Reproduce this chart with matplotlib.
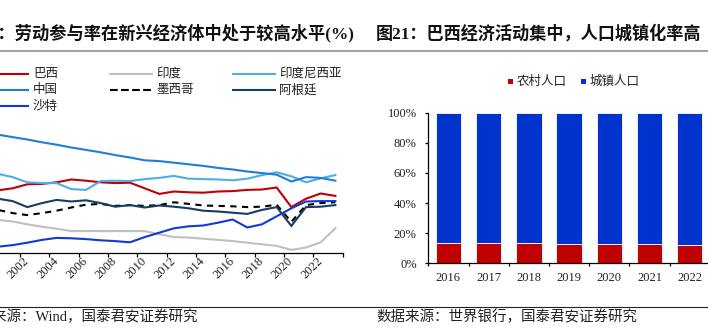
import matplotlib
matplotlib.use('Agg')
import matplotlib.pyplot as plt
from matplotlib.lines import Line2D
from matplotlib.patches import Rectangle
import numpy as np

# ---------------- data ----------------
years = list(range(2000, 2024))
brazil = [60.6, 61.1, 62.1, 62.2, 62.6, 63.3, 63.0, 62.6, 62.4, 62.5, 61.1, 59.7, 60.3, 60.1, 60.0, 60.3, 60.4, 60.7, 60.8, 61.3, 56.4, 58.5, 59.8, 59.2]
india = [53.2, 52.8, 52.1, 51.5, 51.0, 50.4, 50.4, 50.4, 50.4, 50.4, 50.4, 49.6, 48.9, 48.8, 48.5, 48.2, 47.9, 47.5, 47.1, 46.7, 45.7, 46.3, 47.6, 51.1]
indonesia = [64.7, 63.9, 62.6, 62.4, 62.4, 60.9, 60.7, 62.9, 63.0, 62.9, 63.4, 63.7, 64.2, 63.5, 63.4, 63.3, 63.1, 63.5, 64.4, 65.1, 64.1, 62.6, 63.6, 64.4]
china = [74.5, 73.9, 73.3, 72.6, 72.0, 71.3, 70.7, 70.1, 69.4, 68.8, 68.1, 67.9, 67.5, 67.1, 66.7, 66.2, 65.8, 65.3, 64.9, 64.5, 62.8, 63.9, 63.7, 63.0]
mexico = [55.7, 54.9, 54.4, 54.9, 55.5, 56.3, 57.0, 57.2, 56.7, 56.9, 56.7, 56.9, 57.6, 57.2, 56.8, 56.7, 56.6, 56.4, 56.5, 57.0, 52.7, 56.9, 57.4, 57.6]
argentina = [58.5, 57.9, 56.4, 57.4, 58.2, 57.8, 58.1, 57.4, 56.5, 56.9, 56.3, 56.8, 56.5, 56.1, 55.5, 55.3, 55.0, 54.7, 55.7, 56.4, 51.7, 56.4, 56.5, 56.9]
saudi = [46.5, 46.9, 47.5, 48.2, 48.7, 48.6, 48.4, 48.1, 47.9, 47.6, 48.9, 50.0, 51.1, 51.6, 51.8, 52.5, 53.3, 51.3, 52.1, 54.1, 56.1, 57.8, 57.9, 57.9]
line_labels = ['巴西', '印度', '印度尼西亚', '中国', '墨西哥', '阿根廷', '沙特']
line_tick_years = list(range(2002, 2023, 2))

bar_years = ['2016', '2017', '2018', '2019', '2020', '2021', '2022']
rural = [13.8, 13.6, 13.4, 13.1, 12.9, 12.6, 12.3]
urban = [86.2, 86.4, 86.6, 86.9, 87.1, 87.4, 87.7]
bar_labels = ['农村人口', '城镇人口']
pct_ticks = [0, 20, 40, 60, 80, 100]

title_left = '图20：劳动参与率在新兴经济体中处于较高水平(%)'
title_right = '图21：巴西经济活动集中，人口城镇化率高'
source_left = '数据来源：Wind，国泰君安证券研究'
source_right = '数据来源：世界银行，国泰君安证券研究'

# ---------------- layout helpers ----------------
W, H = 708, 332
def fx(x): return x / W
def fy(y): return 1 - y / H

CJK = ['Noto Sans CJK SC', 'DejaVu Sans']
MIX = ['Liberation Serif', 'Noto Sans CJK SC', 'DejaVu Sans']
SERIF = ['Liberation Serif']

fig = plt.figure(figsize=(W / 100, H / 100), dpi=100)
fig.patch.set_facecolor('white')

# ---------------- left line chart ----------------
ax = fig.add_axes([fx(-9.4), fy(252.7), 352.1 / W, 140 / H])
series = [brazil, india, indonesia, china, mexico, argentina, saudi]
colors = ['#C00000', '#BFBFBF', '#4BAEE8', '#1F7FD8', '#000000', '#173D64', '#1438D6']
styles = ['-', '-', '-', '-', (0, (3, 2.6)), '-', '-']
lines = []
for s, c, ls, lab in zip(series, colors, styles, line_labels):
    ln, = ax.plot(years, s, color=c, lw=1.5, ls=ls, label=lab, solid_joinstyle='miter')
    lines.append(ln)
ax.set_xlim(1999.5, 2023.5)
ax.set_ylim(45, 80)
for sp in ['top', 'right', 'left']:
    ax.spines[sp].set_visible(False)
ax.spines['bottom'].set_color('#000000')
ax.spines['bottom'].set_linewidth(0.9)
ax.set_yticks([])
ax.set_xticks(line_tick_years)
ax.set_xticklabels([str(y) for y in line_tick_years], family=SERIF, fontsize=9, color='#222222')
ax.set_xticks(np.arange(2001.5, 2024, 2), minor=True)
ax.tick_params(axis='x', which='major', length=0, pad=5)
ax.tick_params(axis='x', which='minor', length=3, width=0.9, direction='out', color='#000000')
for t in ax.get_xticklabels():
    t.set_rotation(45)
    t.set_ha('right')
    t.set_va('center')
    t.set_rotation_mode('anchor')

# legend (three fixed-width columns, as in the original)
col_lines = [(-13, 28.5), (110, 152), (233, 275)]
row_y = [73.5, 89.8, 106]
for i, ln in enumerate(lines):
    r, c = divmod(i, 3)
    x0, x1 = col_lines[c]
    y = row_y[r]
    fig.add_artist(Line2D([fx(x0), fx(x1)], [fy(y), fy(y)], transform=fig.transFigure,
                          color=ln.get_color(), lw=ln.get_linewidth(), ls=ln.get_linestyle()))
    fig.text(fx(x1 + 4.5), fy(y), ln.get_label(), family=CJK, fontsize=9,
             va='center', ha='left', color='#222222')

# ---------------- right stacked bar chart ----------------
ax2 = fig.add_axes([fx(428.3), fy(263.3), 281.5 / W, 150.6 / H])
xb = np.arange(len(bar_years))
ax2.bar(xb, rural, width=0.63, color='#C00000', edgecolor='white', linewidth=0.6, label=bar_labels[0])
ax2.bar(xb, urban, bottom=rural, width=0.63, color='#0033CC', edgecolor='white', linewidth=0.6, label=bar_labels[1])
ax2.set_xlim(-0.5, len(bar_years) - 0.5)
ax2.set_ylim(0, 100)
for sp in ['top', 'right']:
    ax2.spines[sp].set_visible(False)
for sp in ['left', 'bottom']:
    ax2.spines[sp].set_color('#000000')
    ax2.spines[sp].set_linewidth(0.9)
ax2.set_yticks(pct_ticks)
ax2.set_yticklabels([f'{v}%' for v in pct_ticks], family=SERIF, fontsize=9, color='#222222')
ax2.set_xticks(xb)
ax2.set_xticklabels(bar_years, family=SERIF, fontsize=9, color='#222222')
ax2.set_xticks(np.arange(-0.5, len(bar_years), 1), minor=True)
ax2.tick_params(axis='x', which='major', length=0, pad=6)
ax2.tick_params(axis='x', which='minor', length=2.4, width=0.9, color='#000000')
ax2.tick_params(axis='y', which='major', length=2.4, width=0.9, pad=6, color='#000000')

# right legend
for (sx, tx, col, lab) in [(508, 517, '#C00000', bar_labels[0]), (580.7, 590, '#0033CC', bar_labels[1])]:
    fig.add_artist(Rectangle((fx(sx), fy(84.2)), 5 / W, 5 / H, transform=fig.transFigure,
                             facecolor=col, edgecolor='none'))
    fig.text(fx(tx), fy(81.7), lab, family=CJK, fontsize=9, va='center', ha='left', color='#222222')

# ---------------- titles, rules, sources ----------------
fig.text(fx(-36.5), fy(33.5), title_left, family=MIX, fontsize=12.4, fontweight='bold',
         va='center', ha='left', color='#111111')
fig.text(fx(376), fy(33.5), title_right, family=MIX, fontsize=12.3, fontweight='bold',
         va='center', ha='left', color='#111111')
fig.add_artist(Line2D([0, 1], [fy(50.8), fy(50.8)], transform=fig.transFigure, color='#999999', lw=1.3))
fig.add_artist(Line2D([0, 1], [fy(306.7), fy(306.7)], transform=fig.transFigure, color='#222222', lw=0.8))
fig.text(fx(-37), fy(316.5), source_left, family=MIX, fontsize=10.45, va='center', ha='left', color='#222222')
fig.text(fx(376), fy(316.5), source_right, family=MIX, fontsize=10.45, va='center', ha='left', color='#222222')

fig.savefig('out.png', dpi=100, facecolor='white')
